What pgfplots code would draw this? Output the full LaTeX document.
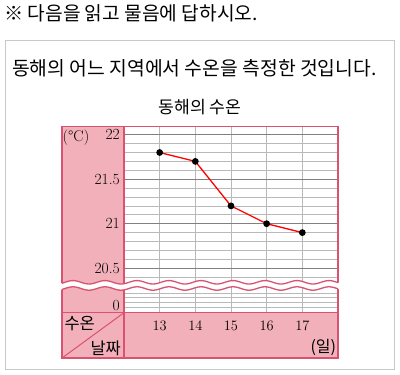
\documentclass[border=0pt]{standalone}
\usepackage{pgfplots}
\pgfplotsset{compat=1.18}
\usepackage{fontspec}
\newfontfamily\kr{Noto Sans CJK KR}
\definecolor{pinkfill}{RGB}{242,176,186}
\definecolor{pinkline}{RGB}{218,82,112}
\definecolor{gridmajor}{RGB}{128,128,128}
\definecolor{gridminor}{RGB}{185,185,185}
\definecolor{boxgray}{RGB}{200,200,200}
\begin{document}
\begin{tikzpicture}[x=1pt,y=1pt]
\fill[white] (0,0) rectangle (400,375);
\draw[boxgray, line width=1pt] (5,5) rectangle (394.5,334);
\node[anchor=west, inner sep=0pt, font=\kr\fontsize{19.2}{21}\selectfont] at (4,362) {※ 다음을 읽고 물음에 답하시오.};
\node[anchor=west, inner sep=0pt, font=\kr\fontsize{19.3}{21}\selectfont] at (12,307) {동해의 어느 지역에서 수온을 측정한 것입니다.};
\node[inner sep=0pt, font=\kr\fontsize{17.2}{19}\selectfont] at (200,268) {동해의 수온};
\fill[pinkfill] (62,62.3) rectangle (124,248.3);
\fill[pinkfill] (62,17) rectangle (338,62.3);
\begin{axis}[
  at={(124pt,62.3pt)}, anchor=south west,
  scale only axis, width=214pt, height=186pt,
  xmin=12, xmax=18, ymin=20, ymax=22.09,
  xtick={13,14,15,16,17},
  ytick={20.086,20.5,21,21.5,22},
  yticklabels={0,20.5,21,21.5,22},
  minor ytick={20.065,20.12,20.17,20.22,20.4,20.6,20.7,20.8,20.9,21.1,21.2,21.3,21.4,21.6,21.7,21.8,21.9},
  extra y ticks={20.5,21,21.5,22},
  extra y tick labels={},
  extra y tick style={grid=major, major grid style={gridmajor, line width=1.1pt}},
  xmajorgrids, yminorgrids,
  major grid style={gridminor, line width=0.8pt},
  minor grid style={gridminor, line width=0.8pt},
  major tick length=0pt, minor tick length=0pt,
  axis line style={pinkline, line width=1.2pt},
  yticklabel style={font=\fontsize{15.5}{15.5}\selectfont, anchor=east, inner sep=0pt, xshift=-4pt},
  xticklabel style={font=\fontsize{14.5}{14.5}\selectfont, anchor=center, inner sep=0pt, yshift=-13.5pt},
]
\addplot[red, line width=1.3pt, mark=*, mark options={black, fill=black}, mark size=2.7pt]
  coordinates {(13,21.8) (14,21.7) (15,21.2) (16,21.0) (17,20.9)};
\end{axis}
\draw[pinkline, line width=1.2pt] (62,17) rectangle (338,248.3);
\draw[pinkline, line width=1.2pt] (124,17) -- (124,248.3);
\draw[pinkline, line width=1.2pt] (62,62.3) -- (338,62.3);
\draw[pinkline, line width=1pt] (62,17) -- (124,62.3);
\fill[white] plot[domain=61:339, samples=160] (\x,{92.7+1.7*cos(11.25*(\x-137))}) -- plot[domain=339:61, samples=160] (\x,{86.5+1.7*cos(11.25*(\x-137))}) -- cycle;
\draw[pinkline, line width=1.3pt] plot[domain=62:338, samples=160] (\x,{92.7+1.7*cos(11.25*(\x-137))});
\draw[pinkline, line width=1.3pt] plot[domain=62:338, samples=160] (\x,{86.5+1.7*cos(11.25*(\x-137))});
\node[inner sep=0pt, font=\fontsize{15.5}{15.5}\selectfont] at (76,237) {(°C)};
\node[inner sep=0pt, font=\kr\fontsize{16.5}{17}\selectfont] at (79.7,51.7) {수온};
\node[inner sep=0pt, font=\kr\fontsize{16.5}{17}\selectfont] at (105.7,26.7) {날짜};
\node[inner sep=0pt, font=\kr\fontsize{16}{17}\selectfont] at (323.3,27.7) {(일)};
\end{tikzpicture}
\end{document}
